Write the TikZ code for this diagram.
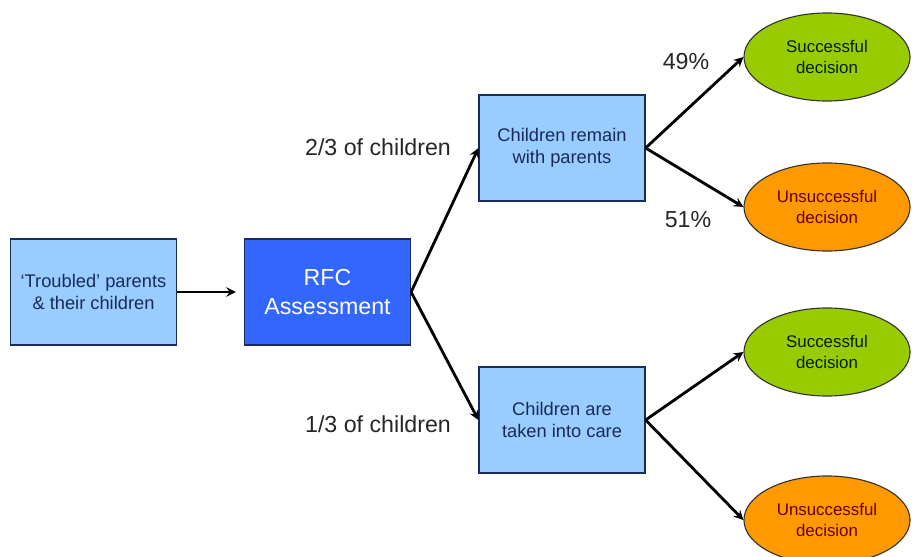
\documentclass[tikz,border=0pt]{standalone}
\usepackage{fontspec}
\setmainfont{Liberation Sans}
\usetikzlibrary{shapes.geometric}
\definecolor{boxblue}{HTML}{99CCFF}
\definecolor{rfcblue}{HTML}{3366FF}
\definecolor{okgreen}{HTML}{99CC00}
\definecolor{failorange}{HTML}{FF9900}
\definecolor{navy}{HTML}{1A2A5A}
\begin{document}
\begin{tikzpicture}[>=stealth,
    x=0.025cm, y=-0.025cm,
    stagebox/.style={draw=navy,line width=0.8pt,fill=boxblue,
      minimum width=4.15cm,minimum height=2.65cm,inner sep=0pt,
      align=center,text=navy,font=\fontsize{13}{16}\selectfont},
    rfcbox/.style={stagebox,fill=rfcblue,text=white,
      font=\fontsize{16.5}{20}\selectfont},
    outcome/.style={ellipse,draw=black!80,line width=0.8pt,
      minimum width=4.15cm,minimum height=2.2cm,inner sep=0pt,
      align=center,font=\fontsize{12}{15.5}\selectfont},
    good/.style={outcome,fill=okgreen,text=black!70!green!40!black},
    bad/.style={outcome,fill=failorange,text=red!40!black},
    share/.style={font=\fontsize{16.5}{20}\selectfont,text=black!85},
    link/.style={->,line width=2pt}]
  \useasboundingbox (0,0) rectangle (912,557);
  \clip (0,0) rectangle (912,557);
  % Cajas
  \node[stagebox] (family) at (93.5,292) {`Troubled' parents\\\& their children};
  \node[rfcbox] (rfc) at (327.5,292) {RFC\\Assessment};
  \node[stagebox] (remain) at (562,148) {Children remain\\with parents};
  \node[stagebox] (care) at (562,420) {Children are\\taken into care};
  % Resultados
  \node[good] (remainok) at (827,57) {Successful\\decision};
  \node[bad] (remainfail) at (827,207) {Unsuccessful\\decision};
  \node[good] (careok) at (827,352) {Successful\\decision};
  \node[bad] (carefail) at (827,520) {Unsuccessful\\decision};
  % Flechas
  \draw[link,shorten >=0.2cm] (family.east) -- (rfc.west);
  \draw[link] (rfc.east) -- (remain.west);
  \draw[link] (rfc.east) -- (care.west);
  \draw[link] (remain.east) -- (remainok.west);
  \draw[link] (remain.east) -- (remainfail.west);
  \draw[link] (care.east) -- (careok.west);
  \draw[link] (care.east) -- (carefail.west);
  % Porcentajes
  \node[share] (twothirds) at (378,147) {2/3 of children};
  \node[share] (onethird) at (378,424) {1/3 of children};
  \node[share] (pct49) at (686,62) {49\%};
  \node[share] (pct51) at (688,220) {51\%};
\end{tikzpicture}
\end{document}
